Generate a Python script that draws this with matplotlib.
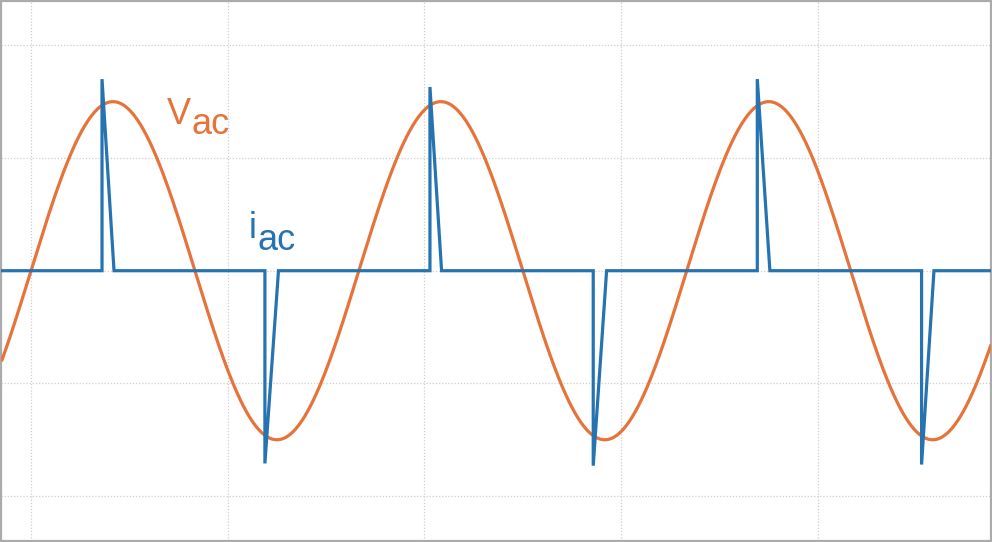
import numpy as np
import matplotlib
matplotlib.use("Agg")
import matplotlib.pyplot as plt

# ---- data ----
vac_amplitude = 1.5          # peak of V_ac (grid units)
vac_frequency_hz = 60.0      # one cycle ~16.67 ms
vac_phase_ms = 0.0           # rising zero crossing at t = 0

# i_ac current pulses: jump at on-time to peak, fall linearly to 0 at off-time
spike_on_ms = [3.61, 11.89, 20.28, 28.58, 36.92, 45.27]
spike_off_ms = [4.22, 12.58, 20.87, 29.26, 37.56, 45.90]
spike_peak = [1.70, -1.71, 1.63, -1.73, 1.70, -1.72]

x_grid_ms = [0, 10, 20, 30, 40]
y_grid = [-2, -1, 0, 1, 2]
x_limits = (-1.5, 48.8)
y_limits = (-2.4, 2.39)

orange = "#E6733A"
blue = "#2673B2"

fig = plt.figure(figsize=(9.92, 5.42), dpi=100)
ax = fig.add_axes([0.0015, 0.0015, 0.9975, 0.996])

t = np.linspace(x_limits[0], x_limits[1], 4000)
vac = vac_amplitude * np.sin(2 * np.pi * vac_frequency_hz * (t - vac_phase_ms) / 1000.0)
ax.plot(t, vac, color=orange, lw=2.3, zorder=3, solid_capstyle="butt")

# build the i_ac polyline from pulse data
ti = [x_limits[0]]
iv = [0.0]
for on, off, pk in zip(spike_on_ms, spike_off_ms, spike_peak):
    ti += [on, on, off]
    iv += [0.0, pk, 0.0]
ti.append(x_limits[1])
iv.append(0.0)
ax.plot(ti, iv, color=blue, lw=2.3, zorder=4, solid_joinstyle="miter")

ax.set_xlim(*x_limits)
ax.set_ylim(*y_limits)
ax.set_xticks(x_grid_ms)
ax.set_yticks(y_grid)
ax.tick_params(left=False, bottom=False, labelleft=False, labelbottom=False)
ax.grid(True, color="#CFCFCF", linestyle=(0, (1, 1.5)), linewidth=0.9, zorder=0)
ax.set_axisbelow(True)
for s in ax.spines.values():
    s.set_color("#ABABAB")
    s.set_linewidth(1.6)

W, H = 992.0, 542.0
fam = ["Liberation Sans", "DejaVu Sans"]
fs = 26


def label(main, sub, color, x_main, y_main, x_sub, y_sub):
    t1 = fig.text(x_main / W, 1 - y_main / H, main, color=color, fontsize=fs,
                  family=fam, ha="left", va="baseline")
    fig.canvas.draw()
    bb = t1.get_window_extent()
    xs = max(x_sub, bb.x1 + 0.5)
    fig.text(xs / W, 1 - y_sub / H, sub, color=color, fontsize=fs,
             family=fam, ha="left", va="baseline")


label("V", "ac", orange, 166.5, 123.5, 187.0, 134.5)
label("i", "ac", blue, 249.0, 238.5, 257.5, 250.0)

fig.savefig("out.png", dpi=100, facecolor="white")
